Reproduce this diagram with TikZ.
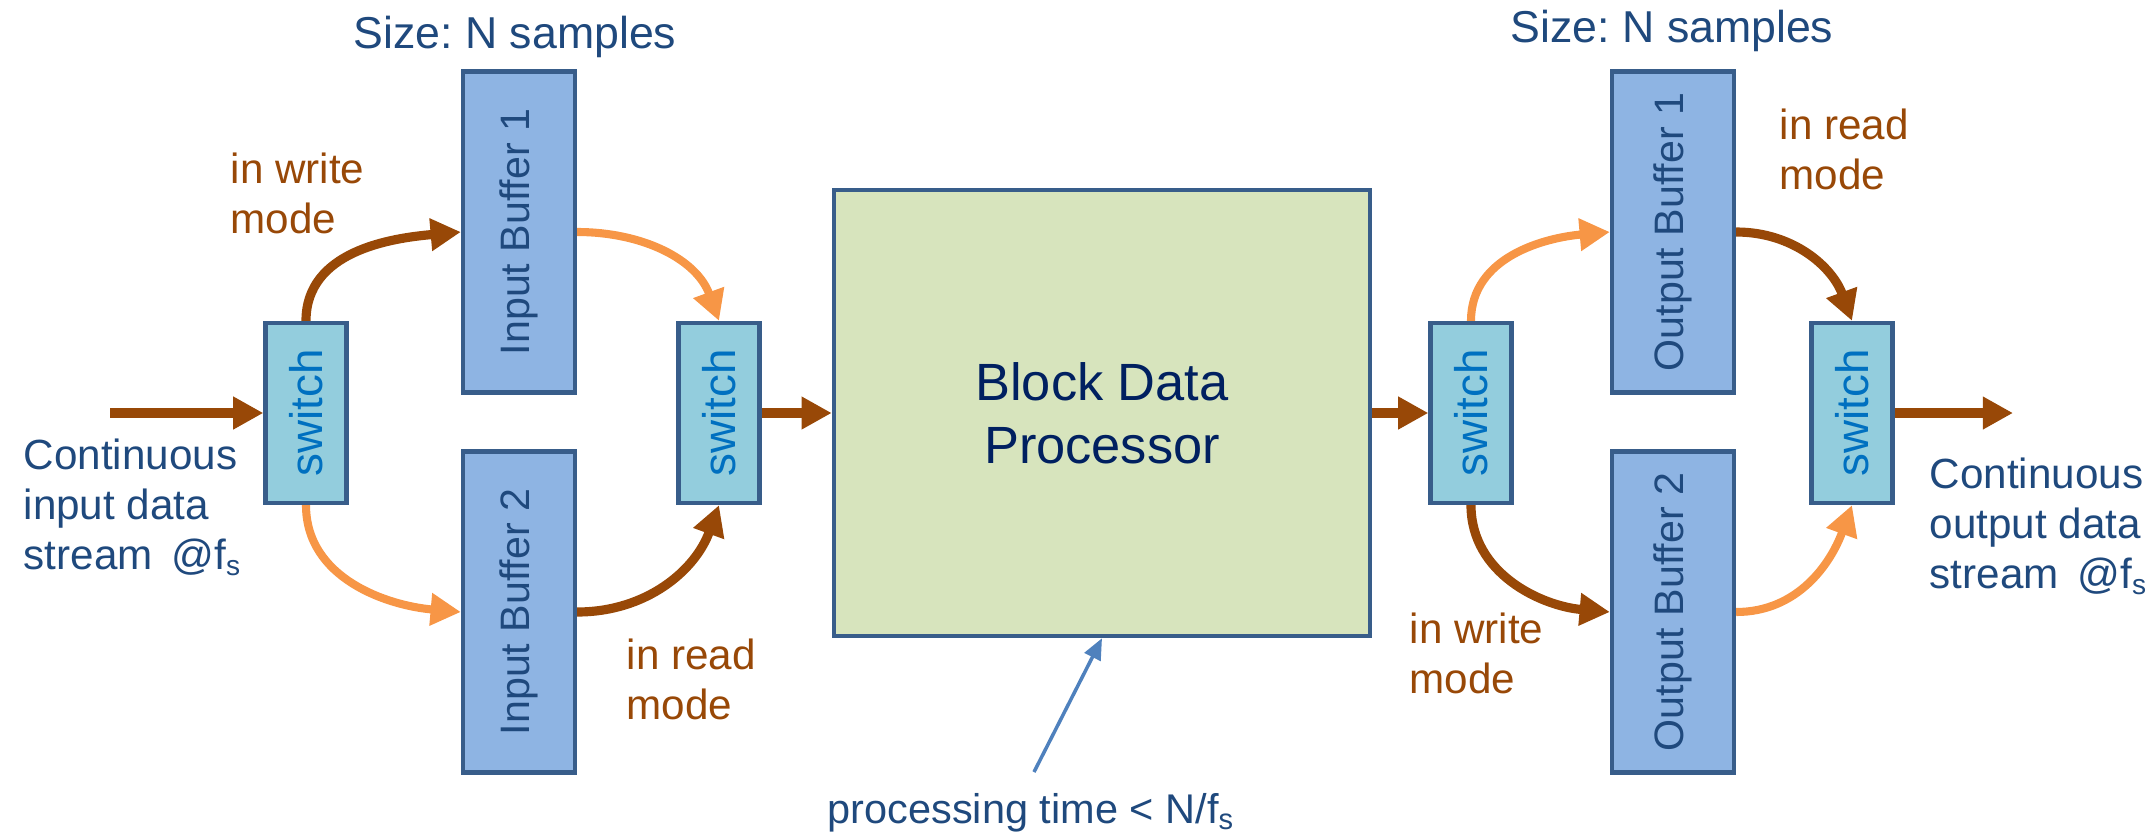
\documentclass[tikz,border=0pt]{standalone}
\usepackage{fontspec,graphicx}
\setmainfont{Liberation Sans}
\usetikzlibrary{arrows.meta}
\definecolor{bufblue}{HTML}{8EB4E3}
\definecolor{swblue}{HTML}{93CDDD}
\definecolor{edgeblue}{HTML}{385D8A}
\definecolor{procgreen}{HTML}{D7E4BD}
\definecolor{wrbrown}{HTML}{984807}
\definecolor{rdorange}{HTML}{F79646}
\definecolor{labelblue}{HTML}{1F497D}
\definecolor{procnavy}{HTML}{002060}
\definecolor{swtext}{HTML}{0070C0}
\definecolor{hintblue}{HTML}{4F81BD}
\newcommand{\vlabel}[1]{\rotatebox{90}{#1}}
\newcommand{\atfs}{\hspace{.45em}@f\textsubscript{s}}
\frenchspacing

\begin{document}
\begin{tikzpicture}[x=0.01cm,y=0.01cm,
  buffer/.style={draw=edgeblue,fill=bufblue,line width=1.2pt,inner sep=0pt,minimum height=3.21cm,text=labelblue,font=\fontsize{11.7}{14}\selectfont},
  switchbox/.style={draw=edgeblue,fill=swblue,line width=1.2pt,inner sep=0pt,minimum width=0.81cm,minimum height=1.80cm,text=swtext,font=\fontsize{13}{15}\selectfont},
  wr/.style={draw=wrbrown,line width=2.6pt,-{Triangle[length=8.6pt,width=8.8pt]}},
  rd/.style={draw=rdorange,line width=2.3pt,-{Triangle[length=8.6pt,width=8.8pt]}},
  note/.style={text=wrbrown,align=left,anchor=base west,inner sep=0pt,font=\fontsize{12}{14.2}\selectfont},
  stream/.style={text=labelblue,align=left,anchor=base west,inner sep=0pt,font=\fontsize{12}{14.2}\selectfont},
  sizelbl/.style={text=labelblue,anchor=base,inner sep=0pt,font=\fontsize{12.7}{15}\selectfont}]
\useasboundingbox (0,0) rectangle (2154,832);
\node[switchbox] (sw1) at (306,419) {\vlabel{switch}};
\node[buffer,minimum width=1.12cm] (ib1) at (519,600) {\vlabel{Input Buffer 1}};
\node[buffer,minimum width=1.12cm] (ib2) at (519,220) {\vlabel{Input Buffer 2}};
\node[switchbox] (sw2) at (719,419) {\vlabel{switch}};
\node[draw=edgeblue,fill=procgreen,line width=1.2pt,minimum width=5.36cm,minimum height=4.46cm,text=procnavy,align=center,font=\fontsize{14.9}{18}\selectfont] (proc) at (1102,419) {Block Data\\Processor};
\node[switchbox] (sw3) at (1471,419) {\vlabel{switch}};
\node[buffer,minimum width=1.22cm] (ob1) at (1673,600) {\vlabel{Output Buffer 1}};
\node[buffer,minimum width=1.22cm] (ob2) at (1673,220) {\vlabel{Output Buffer 2}};
\node[switchbox] (sw4) at (1852,419) {\vlabel{switch}};
\coordinate (src) at (110,419);
\coordinate (sink) at (2013,419);
\coordinate (ptail) at (1034,60);
\node[sizelbl] (sizein) at (515,784) {Size: N samples};
\node[sizelbl] (sizeout) at (1672,790) {Size: N samples};
\node[stream] (instream) at (23,263) {Continuous\\input data\\stream\atfs};
\node[stream] (outstream) at (1929,244) {Continuous\\output data\\stream\atfs};
\node[note] (wrin) at (230,599) {in write\\mode};
\node[note] (rdin) at (626,113) {in read\\mode};
\node[note] (rdout) at (1779,643) {in read\\mode};
\node[note] (wrout) at (1409,139) {in write\\mode};
\node[text=labelblue,anchor=base west,inner sep=0pt,font=\fontsize{11.8}{14}\selectfont] (ptime) at (827,9) {processing time < N/f\textsubscript{s}};
\draw[wr] (src) -- (sw1);
\draw[wr] (sw1.north) to[out=90,in=185] (ib1.west);
\draw[rd] (sw1.south) to[out=-90,in=175] (ib2.west);
\draw[rd] (ib1.east) to[out=0,in=110] (sw2.north);
\draw[wr] (ib2.east) to[out=0,in=-110] (sw2.south);
\draw[wr] (sw2) -- (proc);
\draw[wr] (proc) -- (sw3);
\draw[rd] (sw3.north) to[out=90,in=185] (ob1.west);
\draw[wr] (sw3.south) to[out=-90,in=175] (ob2.west);
\draw[wr] (ob1.east) to[out=0,in=110] (sw4.north);
\draw[rd] (ob2.east) to[out=0,in=-110] (sw4.south);
\draw[wr] (sw4) -- (sink);
\draw[hintblue,line width=1pt,-{Triangle[length=6pt,width=5pt]}] (ptail) -- (proc.south);
\end{tikzpicture}
\end{document}
